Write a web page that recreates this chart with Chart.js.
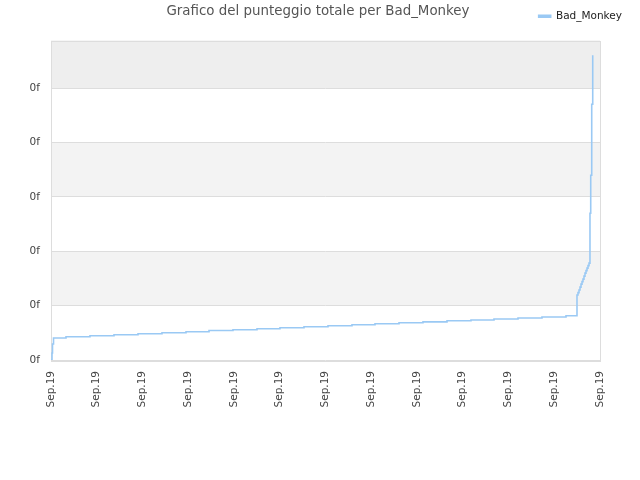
<!DOCTYPE html>
<html>
<head>
<meta charset="utf-8">
<script src="https://cdn.jsdelivr.net/npm/chart.js@4/dist/chart.umd.min.js"></script>
<style>
  html, body { margin: 0; padding: 0; background: #fff; }
  #wrap { width: 640px; height: 480px; }
</style>
</head>
<body>
<div id="wrap"><canvas id="scoreChart" width="640" height="480"></canvas></div>
<script>
var chartTitle = 'Grafico del punteggio totale per Bad_Monkey';
var seriesLabel = 'Bad_Monkey';

// time position (in tick steps) and total score (in grid steps)
var times = [0, 0.022, 0.033, 0.055, 0.328, 0.852, 1.377, 1.902, 2.426, 2.951, 3.454, 3.978,
  4.503, 5.005, 5.530, 6.055, 6.579, 7.082, 7.607, 8.131, 8.656, 9.180, 9.683, 10.208,
  10.732, 11.257, 11.497, 11.519, 11.541, 11.563, 11.585, 11.607, 11.628, 11.650, 11.672,
  11.694, 11.716, 11.738, 11.760, 11.781, 11.797, 11.819, 11.841];
var scores = [0, 0.129, 0.294, 0.404, 0.428, 0.447, 0.465, 0.483, 0.502, 0.520, 0.542, 0.557,
  0.575, 0.594, 0.612, 0.631, 0.649, 0.667, 0.686, 0.702, 0.722, 0.735, 0.754, 0.772,
  0.790, 0.814, 1.195, 1.240, 1.287, 1.342, 1.397, 1.443, 1.489, 1.544, 1.599,
  1.645, 1.691, 1.737, 1.783, 2.702, 3.401, 4.706, 5.607];

var xTickLabels = ['Sep.19', 'Sep.19', 'Sep.19', 'Sep.19', 'Sep.19', 'Sep.19', 'Sep.19',
  'Sep.19', 'Sep.19', 'Sep.19', 'Sep.19', 'Sep.19', 'Sep.19'];
var yTickLabels = ['0f', '0f', '0f', '0f', '0f', '0f'];
var yTop = 5.88;

var points = times.map(function(t, i){ return { x: t, y: scores[i] }; });

// alternating bands behind the grid, a thin frame round the plot, and the title
var bandsPlugin = {
  id: 'bands',
  beforeDraw: function(chart){
    var ctx = chart.ctx, a = chart.chartArea, y = chart.scales.y;
    var fills = ['#ffffff', '#f3f3f3', '#ffffff', '#f3f3f3', '#ffffff', '#eeeeee'];
    ctx.save();
    for (var i = 0; i < fills.length; i++) {
      var top = y.getPixelForValue(Math.min(i + 1, yTop));
      var bot = y.getPixelForValue(i);
      ctx.fillStyle = fills[i];
      ctx.fillRect(a.left, top, a.right - a.left, bot - top);
    }
    ctx.restore();
  },
  beforeDatasetsDraw: function(chart){
    var ctx = chart.ctx, a = chart.chartArea;
    ctx.save();
    ctx.strokeStyle = '#dddddd';
    ctx.lineWidth = 1;
    ctx.strokeRect(Math.round(a.left) + 0.5, Math.round(a.top) + 0.5,
      Math.round(a.right - a.left), Math.round(a.bottom - a.top));
    ctx.restore();
  },
  afterDraw: function(chart){
    var ctx = chart.ctx;
    ctx.save();
    ctx.font = '13.4px "DejaVu Sans"';
    ctx.fillStyle = '#555555';
    ctx.textAlign = 'center';
    ctx.textBaseline = 'middle';
    ctx.fillText(chartTitle, 318, 12);
    ctx.restore();
  }
};

new Chart(document.getElementById('scoreChart').getContext('2d'), {
  type: 'line',
  data: {
    datasets: [{
      label: seriesLabel,
      data: points,
      borderColor: '#9ac9f4',
      backgroundColor: '#9ac9f4',
      borderWidth: 1.6,
      pointRadius: 0,
      stepped: 'before',
      fill: false
    }]
  },
  options: {
    responsive: false,
    animation: false,
    layout: { padding: { left: 0, right: 8, top: 1, bottom: 0 } },
    plugins: {
      title: { display: false },
      tooltip: { enabled: false },
      legend: {
        position: 'top',
        align: 'end',
        labels: {
          boxWidth: 12,
          boxHeight: 2,
          padding: 10,
          color: '#222',
          font: { family: 'DejaVu Sans', size: 10.5 }
        }
      }
    },
    scales: {
      x: {
        type: 'linear',
        min: 0,
        max: 12,
        grid: { display: false, drawTicks: false },
        border: { display: false },
        ticks: {
          stepSize: 1,
          autoSkip: false,
          maxRotation: 90,
          minRotation: 90,
          padding: 11,
          color: '#444',
          font: { family: 'DejaVu Sans', size: 10.5 },
          callback: function(v, i){ return xTickLabels[i]; }
        },
        afterFit: function(s){ s.height = 120; }
      },
      xTop: {
        type: 'linear',
        position: 'top',
        display: true,
        grid: { display: false, drawTicks: false },
        border: { display: false },
        ticks: { display: false },
        afterFit: function(s){ s.height = 9; }
      },
      y: {
        type: 'linear',
        min: 0,
        max: yTop,
        grid: { color: '#dddddd', drawTicks: false },
        border: { display: false },
        ticks: {
          stepSize: 1,
          padding: 11,
          color: '#444',
          font: { family: 'DejaVu Sans', size: 10.5 },
          callback: function(v){ return yTickLabels[v]; }
        },
        afterBuildTicks: function(s){
          s.ticks = s.ticks.filter(function(t){ return Number.isInteger(t.value); });
        },
        afterFit: function(s){ s.width = 51; }
      },
      yRight: {
        type: 'linear',
        position: 'right',
        display: true,
        grid: { display: false, drawTicks: false },
        border: { display: false },
        ticks: { display: false },
        afterFit: function(s){ s.width = 32; }
      }
    }
  },
  plugins: [bandsPlugin]
});
</script>
</body>
</html>
